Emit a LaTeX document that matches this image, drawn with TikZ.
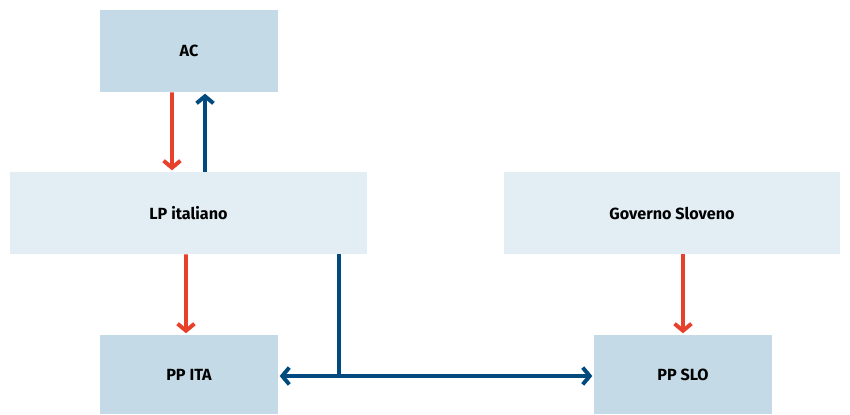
\documentclass[tikz,border=0pt]{standalone}
\usepackage{fontspec}
\setmainfont{Fira Sans}
\usepackage{tikz}
\usetikzlibrary{arrows.meta}
\definecolor{boxdark}{HTML}{C4DBE7}
\definecolor{boxlight}{HTML}{E2EEF4}
\definecolor{arrred}{HTML}{E8412B}
\definecolor{arrblue}{HTML}{004A7F}

\begin{document}
\begin{tikzpicture}[
        darkbox/.style={fill=boxdark,minimum height=2.05cm,inner sep=0pt,font=\bfseries\fontsize{11.5}{13}\selectfont},
        lightbox/.style={fill=boxlight,minimum height=2.05cm,inner sep=0pt,font=\bfseries\fontsize{11.5}{13}\selectfont},
        redarrow/.style={arrred,line width=2.8pt,-{Straight Barb[length=5pt,width=12pt]},shorten >=1pt},
        bluearrow/.style={arrblue,line width=2.8pt,-{Straight Barb[length=5pt,width=12pt]},shorten >=1pt}
    ]
        \useasboundingbox (0,0) rectangle (21.25,10.35);

        % Draw the boxes
        \node[darkbox,minimum width=4.45cm] (AC) at (4.725,9.075) {AC};
        \node[lightbox,minimum width=8.925cm] (LP) at (4.7125,5.025) {LP italiano};
        \node[lightbox,minimum width=8.4cm] (Gov) at (16.8,5.025) {Governo Sloveno};
        \node[darkbox,minimum width=4.45cm,minimum height=1.975cm] (PPITA) at (4.725,0.9875) {PP ITA};
        \node[darkbox,minimum width=4.45cm,minimum height=1.975cm] (PPSLO) at (17.075,0.9875) {PP SLO};

        % draw the arrows between AC and LP
        \draw[redarrow] ([xshift=-0.425cm]AC.south) -- ([xshift=-0.4125cm]LP.north);
        \draw[bluearrow] ([xshift=0.4125cm]LP.north) -- ([xshift=0.4cm]AC.south);

        % draw the arrows down to the PP boxes
        \draw[redarrow] ([xshift=-0.0625cm]LP.south) -- ([xshift=-0.075cm]PPITA.north);
        \draw[redarrow] (Gov.south -| PPSLO.north) -- (PPSLO.north);

        % draw the link between the PP boxes
        \coordinate (split) at (8.475,0.95);
        \draw[arrblue,line width=2.8pt] (LP.south -| split) -- (split);
        \draw[bluearrow] (split) -- (split -| PPITA.east);
        \draw[bluearrow] (split) -- (split -| PPSLO.west);
    \end{tikzpicture}
\end{document}
